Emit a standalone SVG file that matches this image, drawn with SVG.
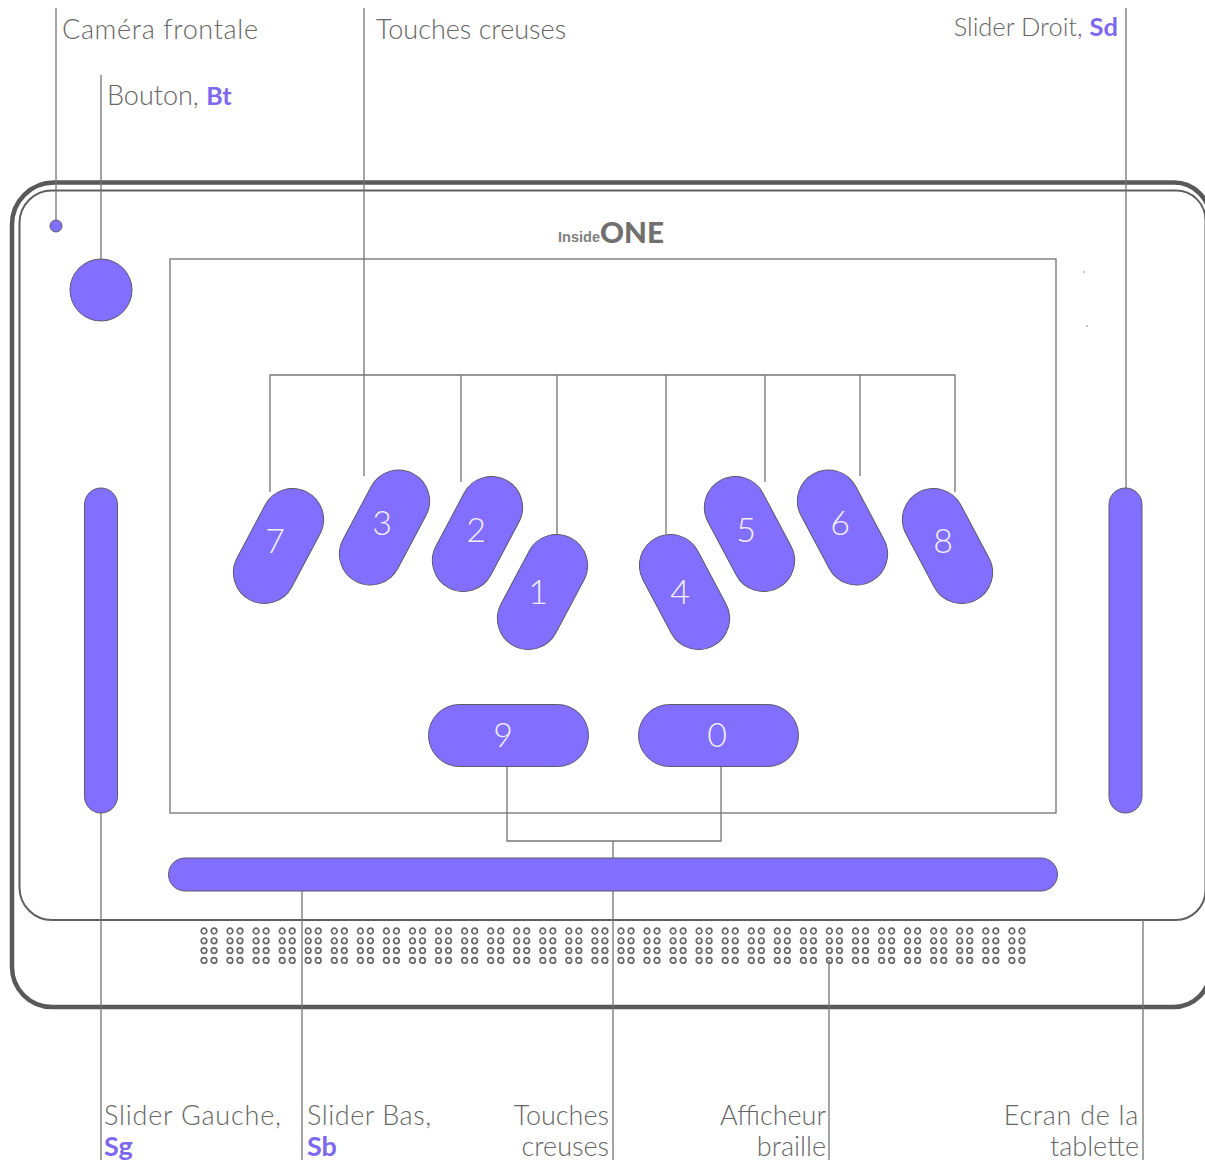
<svg xmlns="http://www.w3.org/2000/svg" width="1205" height="1162" viewBox="0 0 1205 1162">
<style>
.bg{fill:#fff}
.con{fill:none;stroke:#767676;stroke-width:1.3}
.shape{fill:#836fff;stroke:#5a5a6e;stroke-width:1}
.lbl{font-family:"Lato","Liberation Sans",sans-serif;font-weight:300;font-size:27px;fill:#666}
.acc{font-family:"Lato","Liberation Sans",sans-serif;font-weight:700;fill:#7d68ee}
.num{font-family:"Lato","Liberation Sans",sans-serif;font-weight:300;font-size:34px;fill:#f2efff;text-anchor:middle}
.end{text-anchor:end}
.dot{fill:none;stroke:#666;stroke-width:1.7}
</style>
<defs>
<g id="cell">
<circle class="dot" cx="0" cy="0" r="2.8"/><circle class="dot" cx="10" cy="0" r="2.8"/>
<circle class="dot" cx="0" cy="9.800" r="2.8"/><circle class="dot" cx="10" cy="9.800" r="2.8"/>
<circle class="dot" cx="0" cy="19.600" r="2.8"/><circle class="dot" cx="10" cy="19.600" r="2.8"/>
<circle class="dot" cx="0" cy="29.400" r="2.8"/><circle class="dot" cx="10" cy="29.400" r="2.8"/>
</g>
<rect id="keyL" x="-31" y="-61" width="62" height="122" rx="31" class="shape" transform="rotate(28)"/>
<rect id="keyR" x="-31" y="-61" width="62" height="122" rx="31" class="shape" transform="rotate(-28)"/>
</defs>
<rect class="bg" width="1205" height="1162"/>
<g id="tablet">
<path d="M54 182.500H1174A36 36 0 0 1 1210 218.500V971A36 36 0 0 1 1174 1007H52A40 40 0 0 1 12 967V224.500A42 42 0 0 1 54 182.500Z" fill="none" stroke="#595959" stroke-width="4.500"/>
<path d="M52 190.500H1176A29.500 29.500 0 0 1 1205.500 220V890A30 30 0 0 1 1175.500 920H52A32.500 32.500 0 0 1 19.500 887.500V223A32.500 32.500 0 0 1 52 190.500Z" fill="none" stroke="#5f5f5f" stroke-width="2"/>
<circle cx="1084" cy="272" r="0.700" fill="#666"/>
<circle cx="1087" cy="326" r="0.700" fill="#666"/>
</g>
<g id="logo">
<text x="558" y="242" font-family="'Liberation Sans',sans-serif" font-weight="700" font-size="15" fill="#808080" textLength="42" lengthAdjust="spacingAndGlyphs">Inside</text>
<text x="600" y="243" font-family="'Lato','Liberation Sans',sans-serif" font-weight="900" font-size="28" fill="#707070" textLength="64" lengthAdjust="spacingAndGlyphs">ONE</text>
</g>
<g id="screen"><rect x="170" y="259" width="886" height="554" fill="none" stroke="#707070" stroke-width="1.3"/></g>
<g id="connectors">
<path class="con" d="M56 8V226M101 75V259M364 8V476M270 492V375H955V492M461 375V482M557 375V534M666 375V534M765 375V482M860 375V476M1126 8V488"/>
<path class="con" d="M507 767V841H721V767M613 841V1160M101 813V1160M302 891V1160M829 960V1160M1143 920V1160"/>
</g>
<g id="camera"><circle cx="56" cy="226" r="6" class="shape"/></g>
<g id="bouton"><circle cx="101" cy="290" r="31" class="shape"/></g>
<g id="slider-gauche"><rect x="84.500" y="488" width="33" height="325" rx="16.500" class="shape"/></g>
<g id="slider-droit"><rect x="1109" y="488" width="33" height="325" rx="16.500" class="shape"/></g>
<g id="slider-bas"><rect x="168.500" y="858" width="889" height="33" rx="16.500" class="shape"/></g>
<g id="key-7"><use href="#keyL" x="278.500" y="546"/><text class="num" x="275" y="553">7</text></g>
<g id="key-3"><use href="#keyL" x="384.500" y="527.500"/><text class="num" x="382" y="535">3</text></g>
<g id="key-2"><use href="#keyL" x="477.500" y="534"/><text class="num" x="476" y="542">2</text></g>
<g id="key-1"><use href="#keyL" x="542.500" y="592"/><text class="num" x="538" y="604">1</text></g>
<g id="key-4"><use href="#keyR" x="684.500" y="592"/><text class="num" x="680" y="604">4</text></g>
<g id="key-5"><use href="#keyR" x="749.500" y="534"/><text class="num" x="746" y="542">5</text></g>
<g id="key-6"><use href="#keyR" x="842.500" y="527.500"/><text class="num" x="840" y="535">6</text></g>
<g id="key-8"><use href="#keyR" x="947.500" y="546"/><text class="num" x="943" y="553">8</text></g>
<g id="key-9"><rect x="428.500" y="704.500" width="160" height="62" rx="31" class="shape"/><text class="num" x="503" y="747">9</text></g>
<g id="key-0"><rect x="638.500" y="704.500" width="160" height="62" rx="31" class="shape"/><text class="num" x="717" y="747">0</text></g>
<g id="braille">
<use href="#cell" x="204" y="931"/><use href="#cell" x="230" y="931"/><use href="#cell" x="256.100" y="931"/><use href="#cell" x="282.200" y="931"/>
<use href="#cell" x="308.200" y="931"/><use href="#cell" x="334.300" y="931"/><use href="#cell" x="360.400" y="931"/><use href="#cell" x="386.400" y="931"/>
<use href="#cell" x="412.500" y="931"/><use href="#cell" x="438.500" y="931"/><use href="#cell" x="464.600" y="931"/><use href="#cell" x="490.700" y="931"/>
<use href="#cell" x="516.700" y="931"/><use href="#cell" x="542.800" y="931"/><use href="#cell" x="568.800" y="931"/><use href="#cell" x="594.900" y="931"/>
<use href="#cell" x="621" y="931"/><use href="#cell" x="647" y="931"/><use href="#cell" x="673.100" y="931"/><use href="#cell" x="699.100" y="931"/>
<use href="#cell" x="725.200" y="931"/><use href="#cell" x="751.300" y="931"/><use href="#cell" x="777.300" y="931"/><use href="#cell" x="803.400" y="931"/>
<use href="#cell" x="829.400" y="931"/><use href="#cell" x="855.500" y="931"/><use href="#cell" x="881.600" y="931"/><use href="#cell" x="907.600" y="931"/>
<use href="#cell" x="933.700" y="931"/><use href="#cell" x="959.700" y="931"/><use href="#cell" x="985.800" y="931"/><use href="#cell" x="1011.900" y="931"/>
</g>
<g id="labels">
<text class="lbl" x="62" y="39" letter-spacing="0.650">Caméra frontale</text>
<text class="lbl" x="107" y="105">Bouton, <tspan class="acc" font-size="25">Bt</tspan></text>
<text class="lbl" x="376" y="39">Touches creuses</text>
<text class="lbl end" x="1118" y="36" style="font-size:25.500px">Slider Droit, <tspan class="acc">Sd</tspan></text>
<text class="lbl" x="104" y="1125" letter-spacing="0.800">Slider Gauche,</text>
<text class="lbl acc" x="104" y="1156">Sg</text>
<text class="lbl" x="307" y="1125" letter-spacing="0.550">Slider Bas,</text>
<text class="lbl acc" x="307" y="1156">Sb</text>
<text class="lbl end" x="609" y="1125">Touches</text>
<text class="lbl end" x="609" y="1156">creuses</text>
<text class="lbl end" x="826" y="1125">Afficheur</text>
<text class="lbl end" x="826" y="1156">braille</text>
<text class="lbl end" x="1139" y="1125" letter-spacing="0.700">Ecran de la</text>
<text class="lbl end" x="1139" y="1156">tablette</text>
</g>
</svg>
